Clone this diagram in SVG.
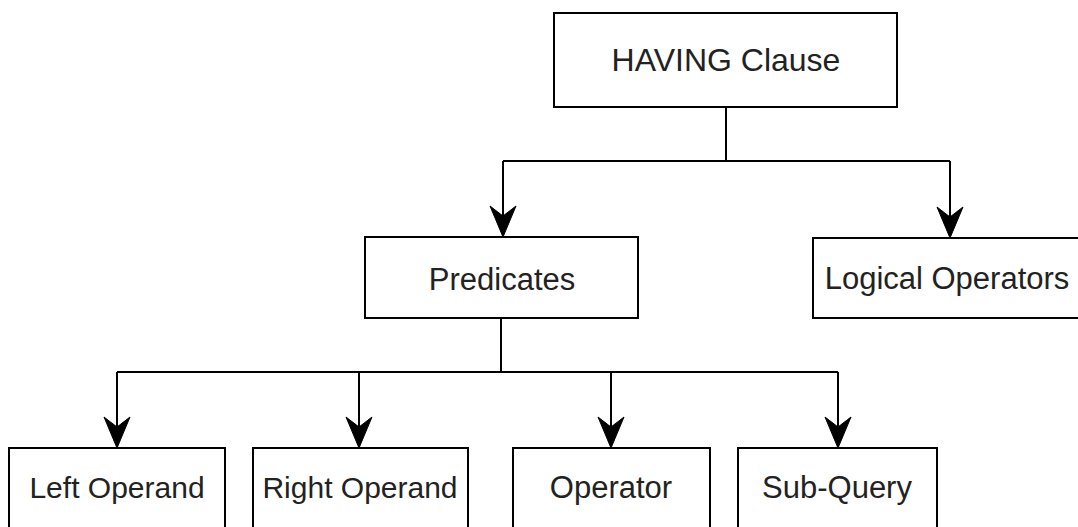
<svg xmlns="http://www.w3.org/2000/svg" width="1078" height="527" viewBox="0 0 1078 527">
<style>
.box{fill:#fff;stroke:#000;stroke-width:2}
.lbl{font-family:"Liberation Sans",Arial,sans-serif;font-size:31px;fill:#222;text-anchor:middle}
.sm{font-size:30px}
.lg{font-size:32px}
.edge{fill:none;stroke:#000;stroke-width:2}
.head{fill:#000;stroke:#000;stroke-width:1}
</style>
<rect width="1078" height="527" fill="#fff"/>
<g id="connectors">
<path class="edge" d="M726 107 V161 M503 161 H950 M503 161 V216 M950 161 V217"/>
<path class="edge" d="M501 318 V372 M117 372 H838 M117 372 V427 M359 372 V427 M611 372 V427 M838 372 V427"/>
<path class="head" d="M503 237 L490 206 L503 216 L516 206 Z"/>
<path class="head" d="M950 238 L937 207 L950 217 L963 207 Z"/>
<path class="head" d="M117 448 L104 417 L117 427 L130 417 Z"/>
<path class="head" d="M359 448 L346 417 L359 427 L372 417 Z"/>
<path class="head" d="M611 448 L598 417 L611 427 L624 417 Z"/>
<path class="head" d="M838 448 L825 417 L838 427 L851 417 Z"/>
</g>
<g id="having"><rect class="box" x="554" y="13" width="343" height="94"/><text class="lbl lg" x="726" y="71">HAVING Clause</text></g>
<g id="predicates"><rect class="box" x="365" y="237" width="273" height="81"/><text class="lbl" x="502" y="290">Predicates</text></g>
<g id="logical"><rect class="box" x="813" y="238" width="273" height="80"/><text class="lbl" x="947" y="289">Logical Operators</text></g>
<g id="left"><rect class="box" x="9" y="448" width="216" height="82"/><text class="lbl sm" x="117" y="498">Left Operand</text></g>
<g id="right"><rect class="box" x="253" y="448" width="215" height="82"/><text class="lbl sm" x="360" y="498">Right Operand</text></g>
<g id="operator"><rect class="box" x="513" y="448" width="197" height="82"/><text class="lbl" x="611" y="498">Operator</text></g>
<g id="subquery"><rect class="box" x="738" y="448" width="199" height="82"/><text class="lbl" x="837" y="498">Sub-Query</text></g>
</svg>
